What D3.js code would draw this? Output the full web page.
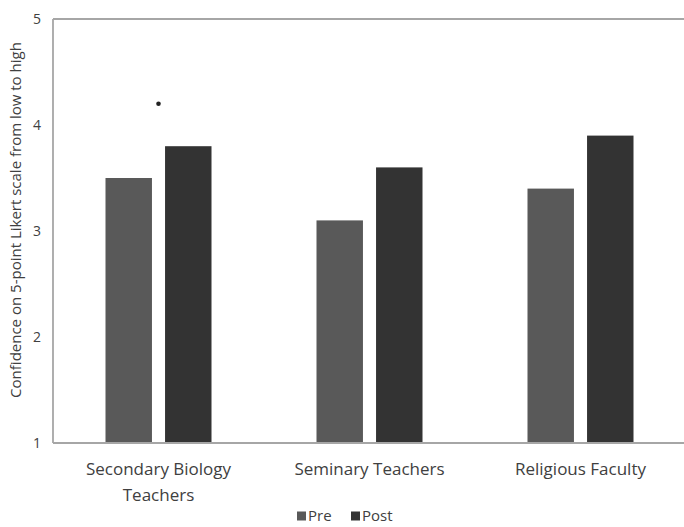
<!DOCTYPE html>
<html>
<head>
<meta charset="utf-8">
<script src="https://cdn.jsdelivr.net/npm/d3@7"></script>
<style>
body { margin: 0; background: #fff; }
svg text { font-family: "Open Sans", sans-serif; fill: #404040; }
</style>
</head>
<body>
<svg id="chart"></svg>
<script>
var categories = ["Secondary Biology\nTeachers", "Seminary Teachers", "Religious Faculty"];
var series = ["Pre", "Post"];
var preValues = [3.5, 3.1, 3.4];
var postValues = [3.8, 3.6, 3.9];
var yTicks = [1, 2, 3, 4, 5];
var sigMarks = [{ category: "Secondary Biology\nTeachers", value: 4.2 }];
var colors = { "Pre": "#595959", "Post": "#333333" };

var width = 684, height = 527;
var margin = { top: 19, right: -2, bottom: 84, left: 53 };

var svg = d3.select("#chart")
	.attr("width", width)
	.attr("height", height);

var x = d3.scaleBand()
	.domain(categories)
	.range([margin.left, width - margin.right])
	.paddingInner(0)
	.paddingOuter(0);
var xInner = d3.scaleBand()
	.domain(series)
	.range([x.bandwidth() / 2 - 53, x.bandwidth() / 2 + 53])
	.paddingInner(0.22);
var y = d3.scaleLinear()
	.domain([1, 5])
	.range([height - margin.bottom, margin.top]);

// bars
var rows = categories.map(function(c, i) {
	return { category: c, values: [{ key: "Pre", v: preValues[i] }, { key: "Post", v: postValues[i] }] };
});
var groups = svg.selectAll("g.group")
	.data(rows)
	.enter()
	.append("g")
	.attr("class", "group")
	.attr("transform", function(d) { return "translate(" + x(d.category) + ",0)"; });
groups.selectAll("rect")
	.data(function(d) { return d.values; })
	.enter()
	.append("rect")
	.attr("x", function(d) { return xInner(d.key); })
	.attr("y", function(d) { return y(d.v); })
	.attr("width", xInner.bandwidth())
	.attr("height", function(d) { return y(1) - y(d.v); })
	.attr("fill", function(d) { return colors[d.key]; });

// frame (left, top, bottom)
var frame = svg.append("g").attr("stroke", "#a6a6a6").attr("stroke-width", 1.8).attr("fill", "none");
frame.append("line").attr("x1", margin.left).attr("x2", margin.left).attr("y1", y(5)).attr("y2", y(1));
frame.append("line").attr("x1", margin.left).attr("x2", width).attr("y1", y(5)).attr("y2", y(5));
frame.append("line").attr("x1", margin.left).attr("x2", width).attr("y1", y(1)).attr("y2", y(1));

// y axis labels
var yAxis = svg.append("g")
	.attr("transform", "translate(" + margin.left + ",0)")
	.call(d3.axisLeft(y).tickValues(yTicks).tickSize(0).tickPadding(12).tickFormat(d3.format("d")));
yAxis.select(".domain").remove();
yAxis.selectAll("text").style("font-size", "14px").attr("fill", "#404040");

// x axis labels (wrapped)
var xLabels = svg.append("g");
categories.forEach(function(c) {
	var t = xLabels.append("text")
		.attr("x", x(c) + x.bandwidth() / 2)
		.attr("y", y(1) + 32)
		.attr("text-anchor", "middle")
		.style("font-size", "17px");
	c.split("\n").forEach(function(line, i) {
		t.append("tspan")
			.attr("x", x(c) + x.bandwidth() / 2)
			.attr("dy", i === 0 ? 0 : 26)
			.text(line);
	});
});

// y axis title
svg.append("text")
	.attr("transform", "translate(21," + 220 + ") rotate(-90)")
	.attr("text-anchor", "middle")
	.style("font-size", "15px")
	.text("Confidence on 5-point Likert scale from low to high");

// significance marker
svg.selectAll("circle.sig")
	.data(sigMarks)
	.enter()
	.append("circle")
	.attr("class", "sig")
	.attr("cx", function(d) { return x(d.category) + x.bandwidth() / 2; })
	.attr("cy", function(d) { return y(d.value); })
	.attr("r", 2.3)
	.attr("fill", "#222");

// legend
var legendX = { "Pre": 297, "Post": 351 };
var legend = svg.selectAll("g.legend")
	.data(series)
	.enter()
	.append("g")
	.attr("class", "legend")
	.attr("transform", function(d) { return "translate(" + legendX[d] + "," + 516 + ")"; });
legend.append("rect")
	.attr("x", 0).attr("y", -4.5)
	.attr("width", 9).attr("height", 9)
	.attr("fill", function(d) { return colors[d]; });
legend.append("text")
	.attr("x", 11)
	.attr("dy", "0.35em")
	.style("font-size", "15px")
	.text(function(d) { return d; });
</script>
</body>
</html>
